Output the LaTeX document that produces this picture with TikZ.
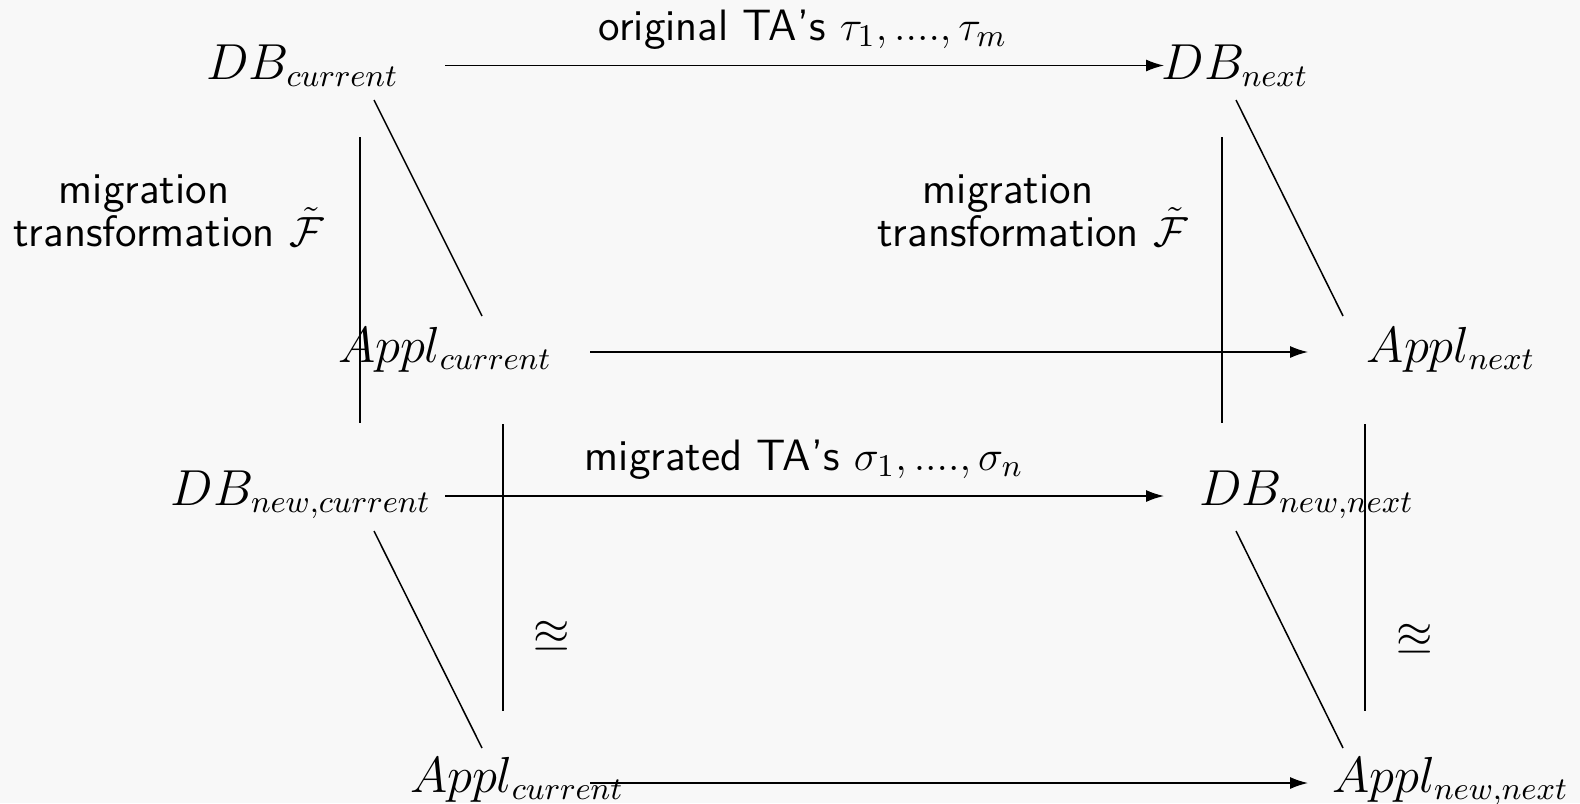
\documentclass[tikz,border=0pt]{standalone}
\usepackage{amssymb}
\usetikzlibrary{arrows.meta}
\definecolor{bg}{HTML}{F8F8F8}
\begin{document}
\begin{tikzpicture}[x=0.01cm,y=-0.01cm,
  obj/.style={anchor=base, inner sep=0pt, font=\fontsize{13.3}{16}\selectfont},
  lbl/.style={anchor=base, inner sep=0pt, font=\fontsize{12.5}{15}\selectfont\sffamily},
  mig/.style={align=center, inner sep=0pt, font=\fontsize{12.5}{12.1}\selectfont\sffamily},
  conn/.style={line width=0.43pt},
  arr/.style={conn, -{Latex[length=5.1pt,width=3.4pt]}}]
\fill[bg] (0,0) rectangle (1580,803);
\useasboundingbox (0,0) rectangle (1580,803);
% objects
\node[obj] (dbc)  at (302.5,79) {$DB_{current}$};
\node[obj] (dbn)  at (1235,79)  {$DB_{next}$};
\node[obj] (apc)  at (445,362)  {$Appl_{current}$};
\node[obj] (apn)  at (1451,362) {$Appl_{next}$};
\node[obj] (dbnc) at (301,505)  {$DB_{new,current}$};
\node[obj] (dbnn) at (1306.5,505) {$DB_{new,next}$};
\node[obj] (apc2) at (517,792)  {$Appl_{current}$};
\node[obj] (apnn) at (1450.5,792) {$Appl_{new,next}$};
% labels
\node[lbl] (lorig) at (803,40) {original TA's $\tau_1, ...., \tau_m$};
\node[lbl] (lmigr) at (804,470) {migrated TA's $\sigma_1, ...., \sigma_n$};
\node[mig] (ml) at (144,211) {migration\\transformation\rlap{ $\smash{\tilde{\mathcal{F}}}$}};
\node[mig] (mr) at (1008,211) {migration\\transformation\rlap{ $\smash{\tilde{\mathcal{F}}}$}};
\node[obj, anchor=center] (eql) at (552,637) {$\approxeq$};
\node[obj, anchor=center] (eqr) at (1415,640) {$\approxeq$};
% connector end points
\coordinate (t1) at (445,65.5);  \coordinate (t2) at (1164,65.5);
\coordinate (m1) at (590,352);   \coordinate (m2) at (1308,352);
\coordinate (n1) at (445,496);   \coordinate (n2) at (1164,496);
\coordinate (b1) at (590,783);   \coordinate (b2) at (1308,783);
\coordinate (dl1) at (374,100);  \coordinate (dl2) at (482,316);
\coordinate (dr1) at (1236,100); \coordinate (dr2) at (1343,316);
\coordinate (el1) at (374,531);  \coordinate (el2) at (482,748);
\coordinate (er1) at (1236,531); \coordinate (er2) at (1343,748);
\coordinate (vl1) at (360,137);  \coordinate (vl2) at (360,423);
\coordinate (vr1) at (1222,137); \coordinate (vr2) at (1222,423);
\coordinate (wl1) at (503,424);  \coordinate (wl2) at (503,711);
\coordinate (wr1) at (1365,424); \coordinate (wr2) at (1365,711);
% connectors
\draw[arr] (t1) -- (t2);
\draw[arr] (m1) -- (m2);
\draw[arr] (n1) -- (n2);
\draw[arr] (b1) -- (b2);
\draw[conn] (dl1) -- (dl2);
\draw[conn] (dr1) -- (dr2);
\draw[conn] (el1) -- (el2);
\draw[conn] (er1) -- (er2);
\draw[conn] (vl1) -- (vl2);
\draw[conn] (vr1) -- (vr2);
\draw[conn] (wl1) -- (wl2);
\draw[conn] (wr1) -- (wr2);
\end{tikzpicture}
\end{document}
